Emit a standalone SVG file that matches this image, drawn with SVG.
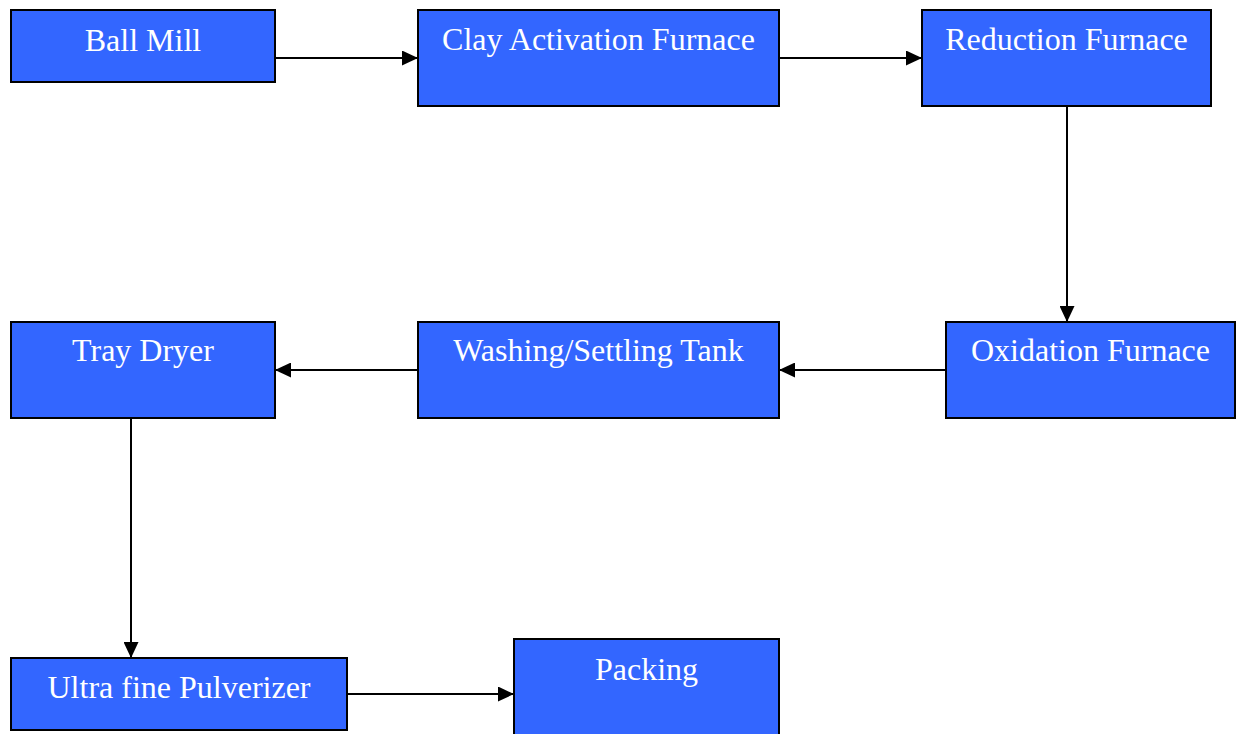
<svg xmlns="http://www.w3.org/2000/svg" width="1237" height="734" viewBox="0 0 1237 734">
<style>
.box{fill:#3366FF;stroke:#000;stroke-width:2}
.lbl{font-family:"Liberation Serif","Times New Roman",serif;font-size:32px;fill:#fff;text-anchor:middle}
.con{stroke:#000;stroke-width:2;fill:none;marker-end:url(#ah)}
</style>
<defs>
<marker id="ah" markerUnits="userSpaceOnUse" markerWidth="16" markerHeight="15" refX="16" refY="7.5" orient="auto">
<path d="M0,0 L16,7.5 L0,15 z" fill="#000"/>
</marker>
</defs>
<rect width="1237" height="734" fill="#fff"/>
<g id="connectors">
<line class="con" x1="275" y1="58" x2="418" y2="58"/>
<line class="con" x1="779" y1="58" x2="922" y2="58"/>
<line class="con" x1="1067" y1="106" x2="1067" y2="322"/>
<line class="con" x1="946" y1="370" x2="779" y2="370"/>
<line class="con" x1="418" y1="370" x2="275" y2="370"/>
<line class="con" x1="131" y1="418" x2="131" y2="658"/>
<line class="con" x1="347" y1="694" x2="514" y2="694"/>
</g>
<g id="ball-mill"><rect class="box" x="11" y="10" width="264" height="72"/><text class="lbl" x="143" y="51">Ball Mill</text></g>
<g id="clay-activation-furnace"><rect class="box" x="418" y="10" width="361" height="96"/><text class="lbl" x="598.5" y="50">Clay Activation Furnace</text></g>
<g id="reduction-furnace"><rect class="box" x="922" y="10" width="289" height="96"/><text class="lbl" x="1066.5" y="50">Reduction Furnace</text></g>
<g id="oxidation-furnace"><rect class="box" x="946" y="322" width="289" height="96"/><text class="lbl" x="1090.5" y="361">Oxidation Furnace</text></g>
<g id="washing-settling-tank"><rect class="box" x="418" y="322" width="361" height="96"/><text class="lbl" x="598.5" y="361">Washing/Settling Tank</text></g>
<g id="tray-dryer"><rect class="box" x="11" y="322" width="264" height="96"/><text class="lbl" x="143" y="361">Tray Dryer</text></g>
<g id="ultra-fine-pulverizer"><rect class="box" x="11" y="658" width="336" height="72"/><text class="lbl" x="179" y="698">Ultra fine Pulverizer</text></g>
<g id="packing"><rect class="box" x="514" y="639" width="265" height="105"/><text class="lbl" x="646.5" y="680">Packing</text></g>
</svg>
